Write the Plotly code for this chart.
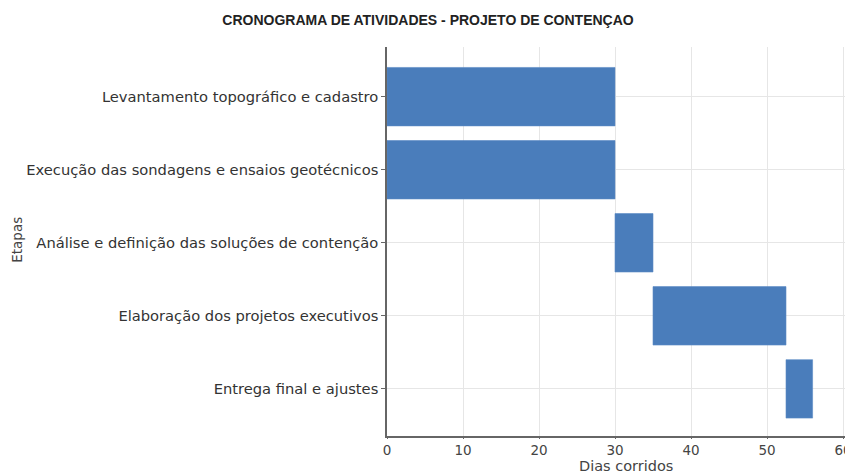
import plotly.graph_objects as go

etapas = [
    "Levantamento topográfico e cadastro",
    "Execução das sondagens e ensaios geotécnicos",
    "Análise e definição das soluções de contenção",
    "Elaboração dos projetos executivos",
    "Entrega final e ajustes",
]
inicio = [0, 0, 30, 35, 52.5]
duracao = [30, 30, 5, 17.5, 3.5]
x_ticks = [0, 10, 20, 30, 40, 50, 60]

# page body has an 8px default margin; the figure is sized to fit the window
OFF = 8
W, H = 853 - OFF, 474 - OFF
left, right, top = 387 - OFF, 0, 47 - OFF
bottom = H - (436.5 - OFF)
pw, ph = W - left - right, H - top - bottom

fig = go.Figure()
fig.add_trace(go.Bar(
    y=etapas, x=duracao, base=inicio, orientation="h",
    width=0.8,
    marker=dict(color="#4a7dbb", line=dict(color="#5a8ac4", width=0.6)),
    hoverinfo="skip",
))

font_fam = "DejaVu Sans, sans-serif"
fig.update_layout(
    width=W, height=H,
    margin=dict(l=left, r=right, t=top, b=bottom, pad=0, autoexpand=False),
    paper_bgcolor="white", plot_bgcolor="white",
    showlegend=False,
    title=dict(
        text="<b>CRONOGRAMA DE ATIVIDADES - PROJETO DE CONTENÇAO</b>",
        font=dict(family="Liberation Sans, Arial, sans-serif", size=14, color="#222"),
        x=(428 - OFF) / W, xanchor="center", y=1 - (20 - OFF) / H, yanchor="middle",
    ),
    xaxis=dict(
        automargin=False,
        range=[0, (W - left) / 7.6], tickvals=x_ticks, ticktext=[str(v) for v in x_ticks],
        showgrid=True, gridcolor="#e6e6e6", gridwidth=1,
        showline=True, linecolor="#666", linewidth=1.5,
        ticks="outside", ticklen=1, tickcolor="#666",
        tickfont=dict(family=font_fam, size=13.5, color="#444"),
        zeroline=False,
    ),
    yaxis=dict(
        automargin=False,
        type="category", categoryorder="array", categoryarray=etapas,
        range=[4.645, -0.68],
        showgrid=True, gridcolor="#e6e6e6", gridwidth=1,
        showline=True, linecolor="#666", linewidth=1.5,
        ticks="outside", ticklen=4, tickcolor="#666",
        tickfont=dict(family=font_fam, size=14.7, color="#333"),
        zeroline=False,
    ),
    annotations=[
        dict(
            text="Dias corridos", showarrow=False,
            xref="paper", yref="paper",
            x=(626 - OFF - left) / pw, y=-((467 - OFF) - (H - bottom)) / ph,
            xanchor="center", yanchor="middle", borderpad=0,
            font=dict(family=font_fam, size=14.5, color="#444"),
        ),
        dict(
            text="Etapas", textangle=-90, showarrow=False,
            xref="paper", yref="paper",
            x=(17 - OFF - left) / pw, y=(H - bottom - (240 - OFF)) / ph,
            xanchor="center", yanchor="middle",
            font=dict(family=font_fam, size=13.5, color="#444"),
        ),
    ],
)

fig.write_html("out.html")
